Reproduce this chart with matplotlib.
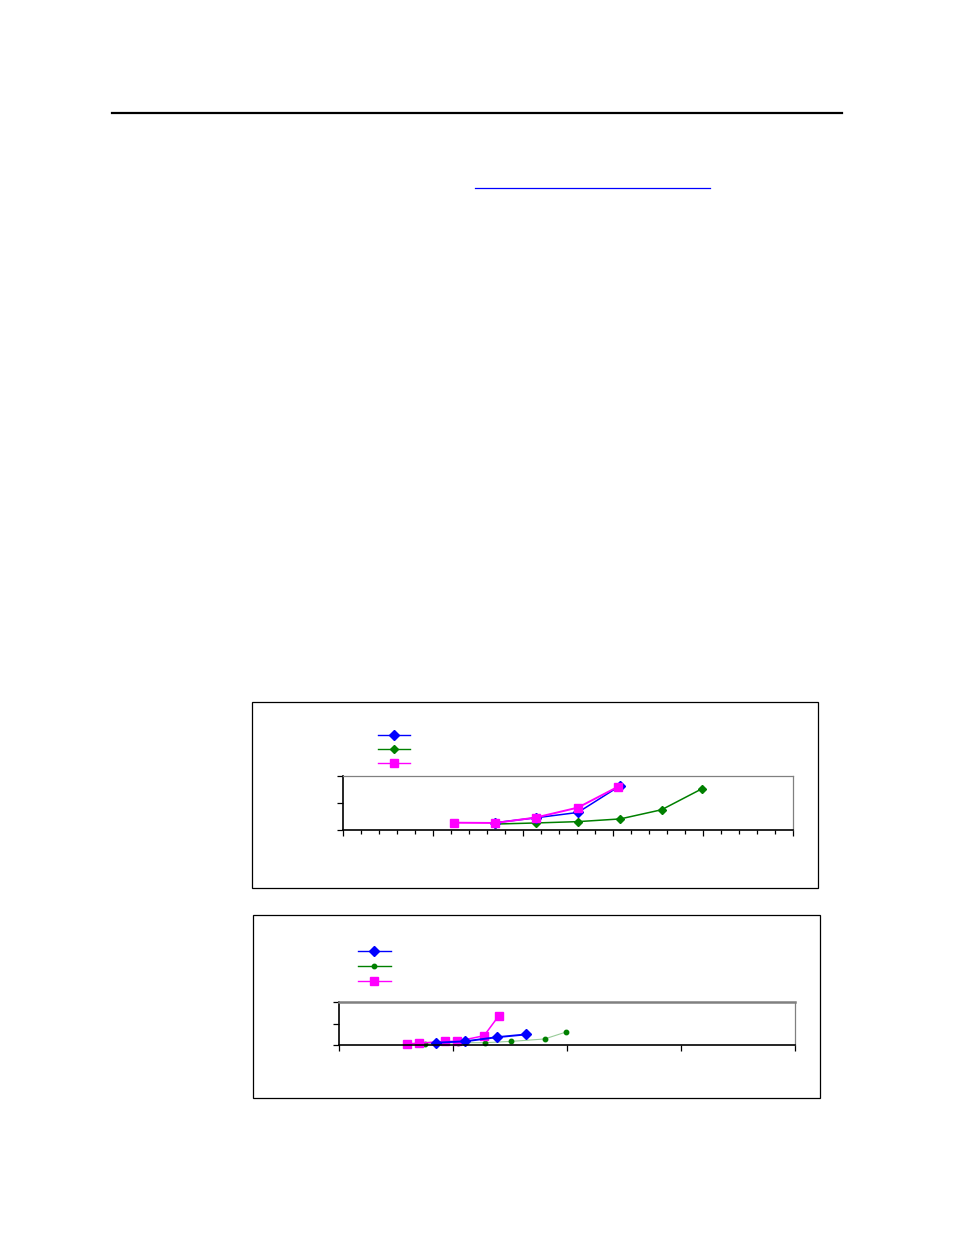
import matplotlib
matplotlib.use("Agg")
import matplotlib.pyplot as plt
from matplotlib.lines import Line2D
from matplotlib.patches import Rectangle
from matplotlib.ticker import MultipleLocator, NullFormatter

# ---------------- data ----------------
# chart 1
c1_blue_x = [16.9, 21.4, 26.1, 30.8]
c1_blue_y = [0.27, 0.45, 0.65, 1.64]
c1_green_x = [16.9, 21.4, 26.1, 30.8, 35.4, 39.9]
c1_green_y = [0.22, 0.26, 0.31, 0.41, 0.75, 1.53]
c1_mag_x = [12.3, 16.9, 21.4, 26.1, 30.6]
c1_mag_y = [0.27, 0.26, 0.46, 0.83, 1.61]

# chart 2
c2_blue_x = [8.5, 11.0, 13.8, 16.4]
c2_blue_y = [0.12, 0.18, 0.37, 0.50]
c2_green_x = [7.5, 10.4, 12.8, 15.1, 18.0, 19.9]
c2_green_y = [0.06, 0.12, 0.12, 0.18, 0.29, 0.61]
c2_mag_x = [5.9, 7.0, 9.3, 10.3, 12.7, 14.0]
c2_mag_y = [0.06, 0.10, 0.18, 0.18, 0.44, 1.36]

BLUE = "#0000FF"
GREEN = "#008000"
PALEGREEN = "#99CC99"
MAGENTA = "#FF00FF"

W, H = 954, 1235
fig = plt.figure(figsize=(W / 100, H / 100), dpi=100)
fig.patch.set_facecolor("white")

def fx(x):
    return x / W

def fy(y):
    return 1 - y / H

def fline(x0, x1, y0, y1, **kw):
    fig.add_artist(Line2D([fx(x0), fx(x1)], [fy(y0), fy(y1)],
                          transform=fig.transFigure, **kw))

def frect(x0, y0, x1, y1, **kw):
    fig.add_artist(Rectangle((fx(x0), fy(y1)), fx(x1) - fx(x0), fy(y0) - fy(y1),
                             transform=fig.transFigure, fill=False, **kw))

def add_ax(left, top, right, bottom):
    return fig.add_axes([fx(left), fy(bottom), (right - left) / W, (bottom - top) / H])

# page decorations
fline(112, 842, 113, 113, color="black", lw=1.6)
fline(475, 710, 187.5, 187.5, color=BLUE, lw=0.9)

# ---------------- chart 1 ----------------
frect(252.5, 701.5, 817.5, 887.5, edgecolor="black", lw=0.9)
ax1 = add_ax(343, 776, 793, 830)
ax1.set_xlim(0, 50)
ax1.set_ylim(0, 2)
ax1.xaxis.set_major_locator(MultipleLocator(10))
ax1.xaxis.set_minor_locator(MultipleLocator(2))
ax1.yaxis.set_major_locator(MultipleLocator(1))
ax1.xaxis.set_major_formatter(NullFormatter())
ax1.yaxis.set_major_formatter(NullFormatter())
ax1.tick_params(axis="x", which="major", direction="out", length=4, width=0.9, color="black")
ax1.tick_params(axis="x", which="minor", direction="out", length=3, width=0.9, color="black")
ax1.tick_params(axis="y", which="major", direction="out", length=4, width=0.9, color="black")
for s in ("left", "bottom"):
    ax1.spines[s].set_color("black")
    ax1.spines[s].set_linewidth(1.2)
for s in ("top", "right"):
    ax1.spines[s].set_color("#808080")
    ax1.spines[s].set_linewidth(0.9)

ax1.plot(c1_green_x, c1_green_y, color=GREEN, lw=1.1, marker="D", ms=4.2,
         mec=GREEN, mfc=GREEN, clip_on=False)
ax1.plot(c1_blue_x, c1_blue_y, color=BLUE, lw=1.1, marker="D", ms=5.2,
         mec=BLUE, mfc=BLUE, clip_on=False)
ax1.plot(c1_mag_x, c1_mag_y, color=MAGENTA, lw=1.4, marker="s", ms=5.6,
         mec=MAGENTA, mfc=MAGENTA, clip_on=False)

# legend keys chart 1
fline(378, 410, 735, 735, color=BLUE, lw=1.0)
fig.add_artist(Line2D([fx(394)], [fy(735)], transform=fig.transFigure,
                      marker="D", ms=5.6, color=BLUE, lw=0))
fline(378, 410, 749, 749, color=GREEN, lw=1.0)
fig.add_artist(Line2D([fx(394)], [fy(749)], transform=fig.transFigure,
                      marker="D", ms=4.0, color=GREEN, lw=0))
fline(378, 410, 762.5, 762.5, color=MAGENTA, lw=1.0)
fig.add_artist(Line2D([fx(394)], [fy(762.5)], transform=fig.transFigure,
                      marker="s", ms=5.4, color=MAGENTA, lw=0))

# ---------------- chart 2 ----------------
frect(253.5, 914.5, 819.5, 1097.5, edgecolor="black", lw=0.9)
ax2 = add_ax(339.3, 1001.7, 795.3, 1045.3)
ax2.set_xlim(0, 40)
ax2.set_ylim(0, 2)
ax2.xaxis.set_major_locator(MultipleLocator(10))
ax2.yaxis.set_major_locator(MultipleLocator(1))
ax2.xaxis.set_major_formatter(NullFormatter())
ax2.yaxis.set_major_formatter(NullFormatter())
ax2.tick_params(axis="x", which="major", direction="out", length=4, width=0.9, color="black")
ax2.tick_params(axis="y", which="major", direction="out", length=4, width=0.9, color="black")
for s in ("left", "bottom"):
    ax2.spines[s].set_color("black")
    ax2.spines[s].set_linewidth(1.2)
ax2.spines["top"].set_color("#808080")
ax2.spines["top"].set_linewidth(1.8)
ax2.spines["right"].set_color("#808080")
ax2.spines["right"].set_linewidth(0.9)

ax2.plot(c2_green_x, c2_green_y, color=PALEGREEN, lw=0.8, marker="o", ms=3.2,
         mec=GREEN, mfc=GREEN, clip_on=False)
ax2.plot(c2_mag_x, c2_mag_y, color=MAGENTA, lw=1.1, marker="s", ms=5.4,
         mec=MAGENTA, mfc=MAGENTA, clip_on=False)
ax2.plot(c2_blue_x, c2_blue_y, color=BLUE, lw=1.4, marker="D", ms=5.4,
         mec=BLUE, mfc=BLUE, clip_on=False)

# legend keys chart 2
fline(358, 391, 950.5, 950.5, color=BLUE, lw=1.0)
fig.add_artist(Line2D([fx(374.5)], [fy(950.5)], transform=fig.transFigure,
                      marker="D", ms=5.6, color=BLUE, lw=0))
fline(358, 391, 966, 966, color=GREEN, lw=1.0)
fig.add_artist(Line2D([fx(374.5)], [fy(966)], transform=fig.transFigure,
                      marker="o", ms=3.2, color=GREEN, lw=0))
fline(358, 391, 981, 981, color=MAGENTA, lw=1.0)
fig.add_artist(Line2D([fx(374.5)], [fy(981)], transform=fig.transFigure,
                      marker="s", ms=5.4, color=MAGENTA, lw=0))

fig.savefig("out.png", dpi=100, facecolor="white")
